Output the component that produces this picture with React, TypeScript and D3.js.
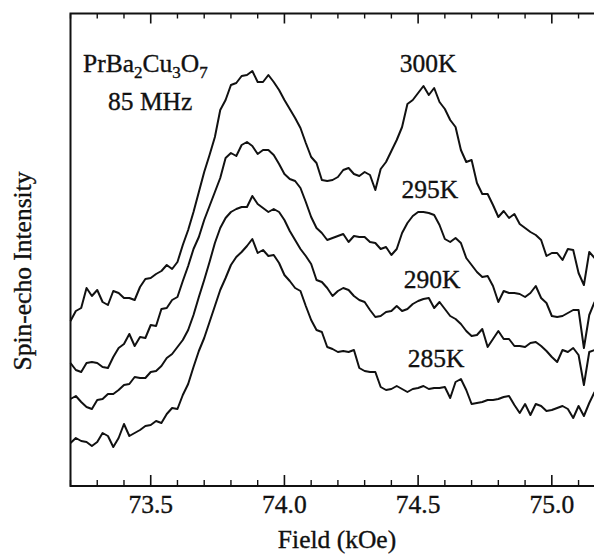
import React from "react";
import * as d3 from "d3";

// field grid (kOe), 0.02 step
const field = [
  73.2, 73.22, 73.24, 73.26, 73.28, 73.3, 73.32, 73.34, 73.36, 73.38,
  73.4, 73.42, 73.44, 73.46, 73.48, 73.5, 73.52, 73.54, 73.56, 73.58,
  73.6, 73.62, 73.64, 73.66, 73.68, 73.7, 73.72, 73.74, 73.76, 73.78,
  73.8, 73.82, 73.84, 73.86, 73.88, 73.9, 73.92, 73.94, 73.96, 73.98,
  74.0, 74.02, 74.04, 74.06, 74.08, 74.1, 74.12, 74.14, 74.16, 74.18,
  74.2, 74.22, 74.24, 74.26, 74.28, 74.3, 74.32, 74.34, 74.36, 74.38,
  74.4, 74.42, 74.44, 74.46, 74.48, 74.5, 74.52, 74.54, 74.56, 74.58,
  74.6, 74.62, 74.64, 74.66, 74.68, 74.7, 74.72, 74.74, 74.76, 74.78,
  74.8, 74.82, 74.84, 74.86, 74.88, 74.9, 74.92, 74.94, 74.96, 74.98,
  75.0, 75.02, 75.04, 75.06, 75.08, 75.1, 75.12, 75.14, 75.16,
];

// spin-echo intensity (arb. units, traces offset vertically)
const t300 = [
  165, 175, 178, 198, 190, 196, 184, 181, 195, 193,
  188, 188, 186, 199, 207, 208, 212, 215, 221, 217,
  224, 241, 256, 274, 294, 314, 331, 349, 376, 386,
  401, 403, 410, 411, 415, 404, 404, 411, 404, 396,
  386, 377, 368, 358, 343, 329, 323, 306, 305, 306,
  309, 316, 318, 312, 310, 314, 311, 296, 317, 324,
  335, 346, 359, 382, 386, 393, 400, 391, 398, 384,
  377, 366, 359, 336, 324, 326, 303, 292, 292, 281,
  269, 275, 268, 272, 262, 258, 254, 251, 246, 230,
  233, 233, 226, 237, 236, 213, 201, 234, 228,
];

const t295 = [
  123, 116, 114, 123, 124, 123, 119, 118, 129, 138,
  142, 152, 140, 149, 148, 161, 160, 177, 178, 186,
  189, 205, 220, 237, 249, 266, 280, 294, 308, 328,
  333, 330, 341, 344, 340, 332, 336, 336, 331, 322,
  312, 307, 305, 298, 284, 269, 258, 253, 246, 248,
  250, 252, 244, 250, 249, 249, 244, 243, 237, 239,
  231, 237, 253, 263, 270, 274, 274, 273, 271, 261,
  247, 244, 248, 243, 228, 221, 214, 209, 210, 200,
  184, 195, 193, 193, 192, 189, 193, 200, 188, 183,
  170, 169, 170, 173, 176, 176, 138, 171, 184,
];

const t290 = [
  87, 90, 84, 79, 77, 86, 87, 92, 92, 96,
  101, 102, 109, 108, 108, 114, 115, 120, 128, 132,
  139, 146, 156, 171, 189, 206, 224, 243, 258, 268,
  274, 277, 279, 279, 290, 282, 278, 274, 277, 274,
  266, 255, 246, 237, 230, 222, 206, 204, 198, 190,
  195, 198, 196, 190, 186, 184, 176, 169, 170, 174,
  175, 180, 175, 177, 182, 185, 187, 188, 178, 184,
  177, 170, 167, 162, 155, 150, 151, 157, 139, 147,
  155, 147, 147, 140, 140, 139, 143, 144, 140, 135,
  129, 124, 136, 134, 138, 131, 101, 134, 136,
];

const t285 = [
  43, 48, 45, 44, 40, 44, 53, 50, 39, 48,
  62, 50, 53, 56, 60, 61, 65, 63, 72, 78,
  77, 91, 102, 119, 135, 148, 164, 180, 196, 208,
  221, 229, 234, 240, 247, 233, 236, 230, 231, 223,
  211, 205, 198, 195, 180, 166, 156, 154, 139, 137,
  134, 135, 134, 136, 118, 115, 114, 114, 99, 96,
  97, 100, 97, 94, 97, 98, 100, 97, 98, 98,
  99, 88, 104, 107, 96, 82, 83, 84, 86, 86,
  87, 89, 90, 81, 73, 82, 71, 82, 80, 75,
  76, 78, 80, 77, 68, 80, 70, 83, 94,
];

const series = [t300, t295, t290, t285];
const majorTicks = [73.5, 74.0, 74.5, 75.0];

// temperature labels anchored in data units (centre, baseline)
const tempLabels = [
  { text: "300K", f: 74.537, v: 414 },
  { text: "295K", f: 74.544, v: 288 },
  { text: "290K", f: 74.552, v: 198 },
  { text: "285K", f: 74.567, v: 119 },
];

const FONT = "'Liberation Serif', 'DejaVu Serif', serif";
const INK = "#111";

export default function App() {
  const left = 70.5;
  const top = 13.5;
  const bottom = 486;
  const kOe = 267.4; // px per kOe

  const x = d3.scaleLinear().domain([73.2, 75.2]).range([left, left + 2 * kOe]);
  const y = d3.scaleLinear().domain([0, 472.5]).range([bottom, top]);

  const line = d3
    .line<number>()
    .x((_, i) => x(field[i]))
    .y((d) => y(d));

  const minorTicks = x.ticks(20).filter((t) => !majorTicks.some((m) => Math.abs(m - t) < 1e-6));
  const fmt = d3.format(".1f");
  const txt = { fill: INK, stroke: INK, strokeWidth: 0.35 };

  return (
    <svg
      width={594}
      height={555}
      style={{ position: "absolute", left: 0, top: 0, background: "#fff" }}
      fontFamily={FONT}
    >
      <rect x={0} y={0} width={594} height={555} fill="#fff" />

      {/* traces */}
      {series.map((s, k) => (
        <path key={k} d={line(s) || ""} fill="none" stroke={INK} strokeWidth={2} strokeLinejoin="round" />
      ))}

      {/* frame (right side runs off the page) */}
      <path
        d={`M${left + 2 * kOe + 20},${top}H${left}V${bottom}H${left + 2 * kOe + 20}`}
        fill="none"
        stroke={INK}
        strokeWidth={2}
      />

      {majorTicks.map((t) => (
        <g key={"M" + t}>
          <line x1={x(t)} x2={x(t)} y1={bottom} y2={bottom - 11} stroke={INK} strokeWidth={1.6} />
          <line x1={x(t)} x2={x(t)} y1={top} y2={top + 10} stroke={INK} strokeWidth={1.6} />
          <text x={x(t)} y={513} textAnchor="middle" fontSize={25.5} {...txt}>
            {fmt(t)}
          </text>
        </g>
      ))}
      {minorTicks.map((t) => (
        <g key={"m" + t}>
          <line x1={x(t)} x2={x(t)} y1={bottom} y2={bottom - 6} stroke={INK} strokeWidth={1.4} />
          <line x1={x(t)} x2={x(t)} y1={top} y2={top + 5} stroke={INK} strokeWidth={1.4} />
        </g>
      ))}

      <text x={337} y={548} textAnchor="middle" fontSize={25.5} {...txt}>
        Field (kOe)
      </text>
      <text transform="translate(31,271) rotate(-90)" textAnchor="middle" fontSize={25.5} {...txt}>
        Spin-echo Intensity
      </text>

      <text x={83} y={72} fontSize={25.5} {...txt}>
        PrBa
        <tspan fontSize={17} dy={6}>2</tspan>
        <tspan dy={-6}>Cu</tspan>
        <tspan fontSize={17} dy={6}>3</tspan>
        <tspan dy={-6}>O</tspan>
        <tspan fontSize={17} dy={6}>7</tspan>
      </text>
      <text x={108} y={110} fontSize={25.5} {...txt}>
        85 MHz
      </text>

      {tempLabels.map((l) => (
        <text key={l.text} x={x(l.f)} y={y(l.v)} textAnchor="middle" fontSize={25.5} {...txt}>
          {l.text}
        </text>
      ))}
    </svg>
  );
}
